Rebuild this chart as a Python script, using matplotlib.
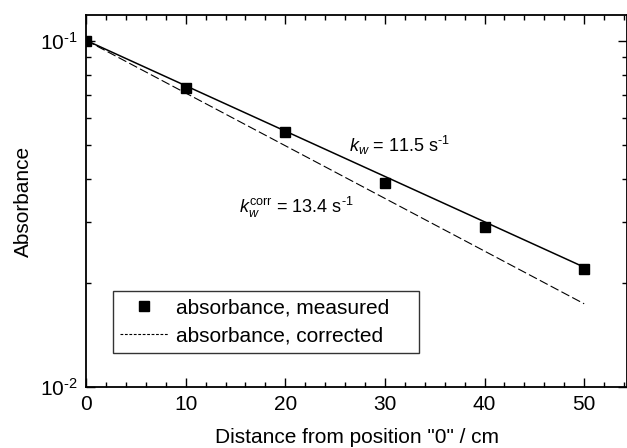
import matplotlib
matplotlib.use("Agg")
import matplotlib.pyplot as plt
from matplotlib.lines import Line2D
from matplotlib.ticker import LogLocator, MultipleLocator, NullFormatter

plt.rcParams["font.family"] = ["Liberation Sans", "DejaVu Sans"]
plt.rcParams["mathtext.fontset"] = "custom"
plt.rcParams["mathtext.rm"] = "Liberation Sans"
plt.rcParams["mathtext.it"] = "Liberation Sans:italic"
plt.rcParams["mathtext.default"] = "regular"

dist = [0, 10, 20, 30, 40, 50]
abs_medida = [0.100, 0.0733, 0.0546, 0.0389, 0.0290, 0.0219]

# retas de ajuste (extremos)
ajuste_x = [0, 50]
ajuste_medida = [0.1005, 0.0222]
ajuste_corrigida = [0.1005, 0.0174]

fig = plt.figure(figsize=(6.27, 4.48), dpi=100)
ax = fig.add_axes([0.1372, 0.1362, 0.8628, 0.8304])

ax.plot(ajuste_x, ajuste_medida, color="black", lw=1.1)
ax.plot(ajuste_x, ajuste_corrigida, color="black", lw=0.8, dashes=(8, 3))
ax.plot(dist, abs_medida, "s", color="black", ms=7, zorder=3)

ax.set_yscale("log")
ax.set_xlim(0, 54.3)
ax.set_ylim(0.01, 0.119)

ax.xaxis.set_major_locator(MultipleLocator(10))
ax.xaxis.set_minor_locator(MultipleLocator(2))
ax.yaxis.set_minor_locator(LogLocator(base=10, subs=range(2, 10)))
ax.yaxis.set_minor_formatter(NullFormatter())
ax.set_yticks([0.01, 0.1], [r"$10^{\text{-}2}$", r"$10^{\text{-}1}$"])

ax.tick_params(which="both", direction="in", top=True, right=True,
               labelsize=15, width=1.0, pad=6)
ax.tick_params(which="major", length=6.5)
ax.tick_params(which="minor", length=3.6)
for s in ax.spines.values():
    s.set_linewidth(1.3)

ax.set_xlabel('Distance from position "0" / cm', fontsize=15, labelpad=10)
ax.set_ylabel("Absorbance", fontsize=15, labelpad=5)

ax.text(26.4, 0.0478, r"$\mathit{k}_\mathit{w}$ = 11.5 s$^{\text{-}1}$", fontsize=13)
ax.text(15.35, 0.0319, r"$\mathit{k}_\mathit{w}^{corr}$ = 13.4 s$^{\text{-}1}$",
        fontsize=13)

h1 = Line2D([], [], marker="s", ls="none", color="black", ms=7)
h2 = Line2D([], [], color="black", lw=0.8, dashes=(2.5, 1.5))
leg = ax.legend([h1, h2], ["absorbance, measured    ", "absorbance, corrected    "],
                loc="lower left", bbox_to_anchor=(0.05, 0.0914), fontsize=15,
                fancybox=False, framealpha=1, edgecolor="#333333",
                handlelength=2.3, handletextpad=0.35, borderpad=0.35,
                labelspacing=0.45, borderaxespad=0)
leg.get_frame().set_linewidth(1.0)

fig.savefig("out.png", dpi=100)
